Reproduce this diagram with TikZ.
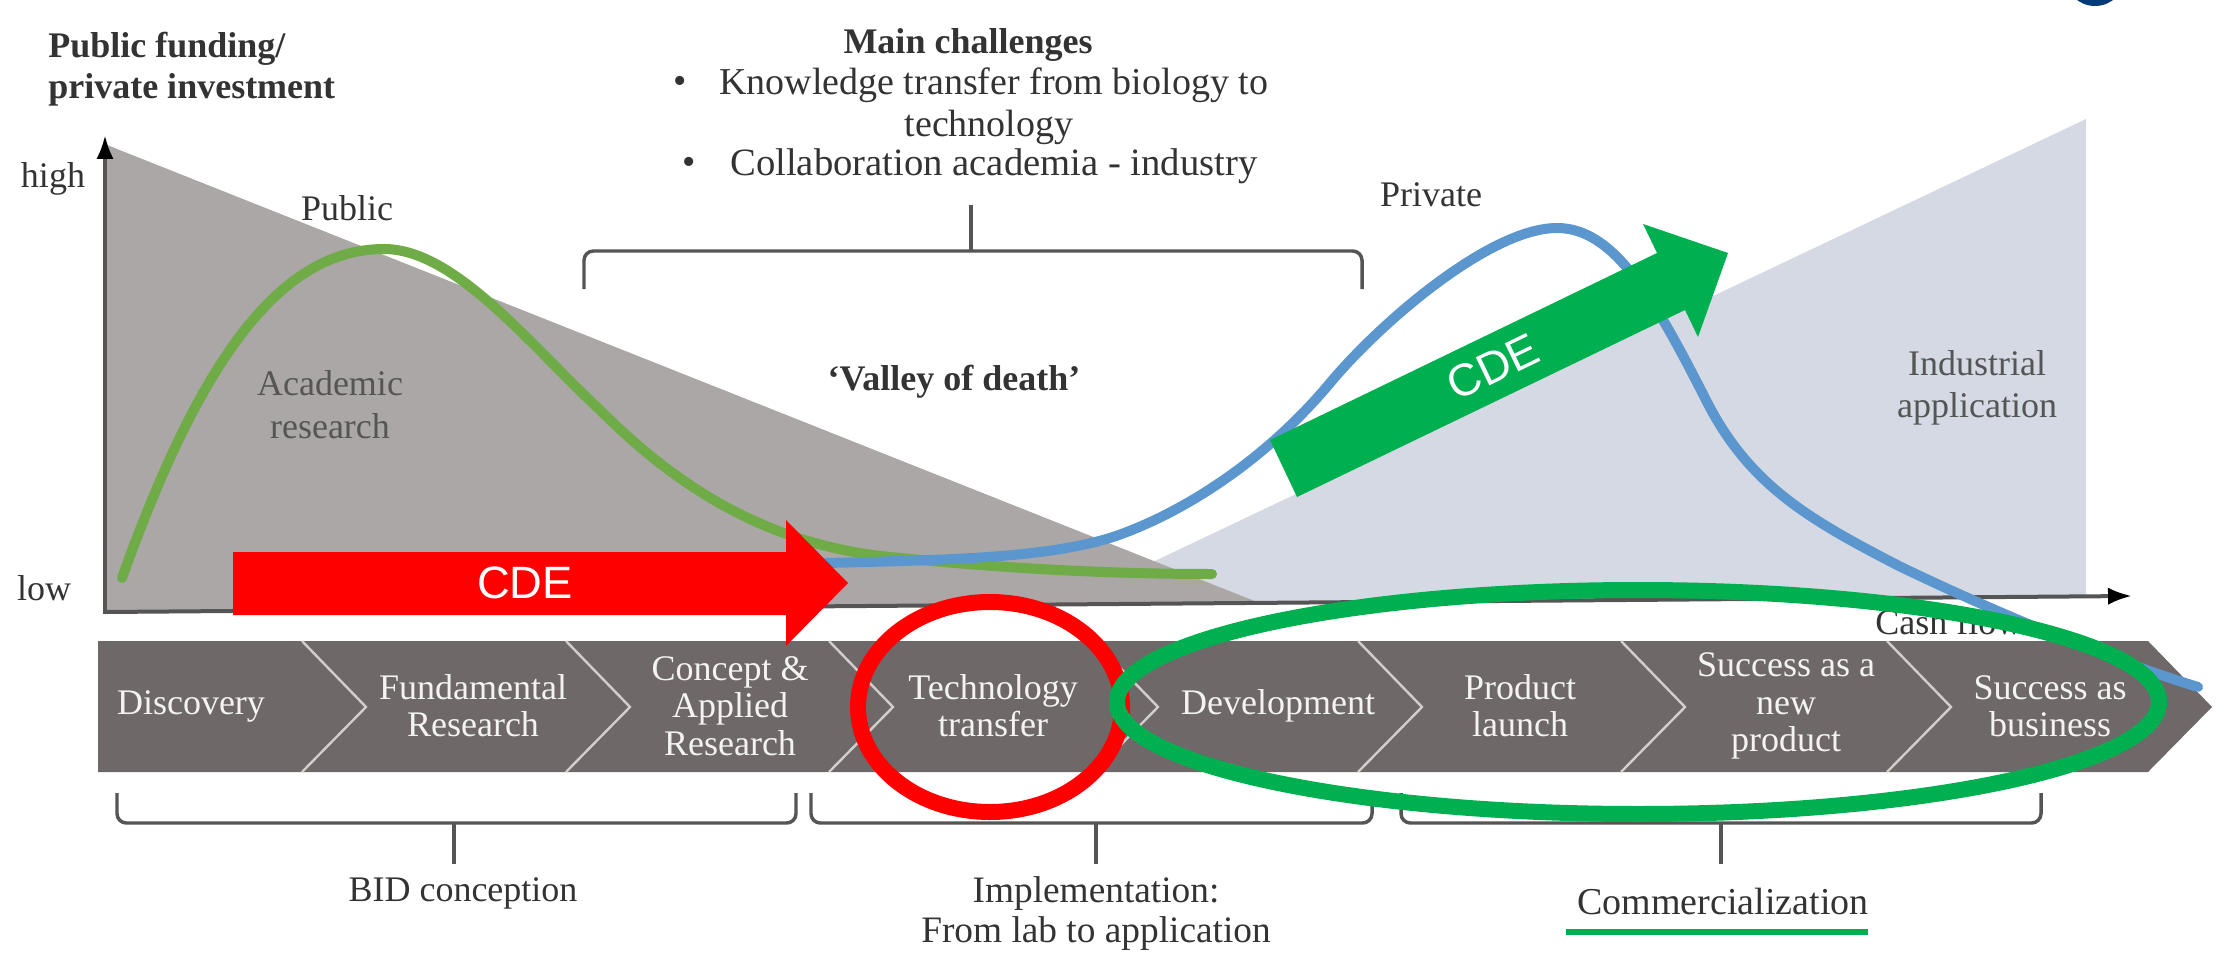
\documentclass[tikz,border=0pt]{standalone}
\usepackage{fontspec}
\setmainfont{Liberation Serif}
\setsansfont{Liberation Sans}
\usetikzlibrary{arrows.meta}
\definecolor{greytri}{HTML}{ABA7A6}
\definecolor{bluetri}{HTML}{D4D9E3}
\definecolor{band}{HTML}{6E6868}
\definecolor{sep}{HTML}{D2CECC}
\definecolor{axisc}{HTML}{555555}
\definecolor{cgreen}{HTML}{6FAB47}
\definecolor{cblue}{HTML}{5B97CE}
\definecolor{cdegreen}{HTML}{00B050}
\definecolor{logoblue}{HTML}{003A78}
\tikzset{
  lab/.style={font=\fontsize{27}{32}\selectfont, text=black!80, align=center, inner sep=0pt},
  toplab/.style={lab, font=\fontsize{28.5}{32}\selectfont},
  blab/.style={lab, font=\fontsize{27}{31}\selectfont\bfseries},
  softlab/.style={lab, text=axisc},
  bandlab/.style={font=\fontsize{27}{28}\selectfont, text=white!92!band, align=center, inner sep=0pt},
  cdelab/.style={font=\sffamily\fontsize{34}{40}\selectfont, text=white, inner sep=0pt},
  axisline/.style={draw=axisc, line width=3pt, -{Latex[length=18pt,width=13pt,black]}},
  bracket/.style={draw=axisc, line width=2.6pt, rounded corners=7pt},
  sepline/.style={draw=sep, line width=1.8pt},
  curve/.style={line width=7.5pt, line cap=round},
  ring/.style={line width=12pt, fill=none},
}
\begin{document}
\begin{tikzpicture}[x=0.75pt,y=-0.75pt]
\useasboundingbox (0,0) rectangle (2233,966);
\clip (0,0) rectangle (2233,966);
% logo fragment
\fill[logoblue] (2095,-24) circle (30);
% areas
\fill[bluetri] (2086,119) -- (2086,598) -- (1060,606) -- cycle;
\fill[greytri] (107,145) -- (1262,604) -- (107,612) -- cycle;
% axes
\coordinate (origin) at (105,612);
\coordinate (ytop) at (105,135);
\coordinate (xend) at (2132,596);
\draw[axisline] (105,613.5) -- (ytop);
\draw[axisline] (origin) -- (xend);
% axis and area labels
\node[blab,align=left,anchor=west] (yaxislab) at (48,69) {Public funding/\\private investment};
\node[lab] (high) at (53,179) {high};
\node[lab] (low) at (44,588) {low};
\node[lab] (public) at (347,208) {Public};
\node[lab] (private) at (1431,195) {Private};
\node[softlab] (academic) at (330,405) {Academic\\research};
\node[softlab] (industrial) at (1977,388) {Industrial\\application};
\node[lab,anchor=west] (cash) at (1875,622) {Cash flow};
% challenges
\node[blab] (main) at (968,45) {Main challenges};
\node[toplab] (bul1) at (680,85) {•};
\node[toplab,anchor=west] (know) at (719,85) {Knowledge transfer from biology to};
\node[toplab] (techn) at (989,127) {technology};
\node[toplab] (bul2) at (689,166) {•};
\node[toplab,font=\fontsize{29}{32}\selectfont,anchor=west] (collab) at (730,166) {Collaboration academia - industry};
\node[blab] (valley) at (954,382) {‘Valley of death’};
% chevron band
\fill[band] (98,641) -- (2148,641) -- (2212,707) -- (2148,772) -- (98,772) -- cycle;
\foreach \x in {302,566,829,1094,1358,1621,1887}
  \draw[sepline] (\x,641) -- (\x+64,707) -- (\x,772);
\node[bandlab] (s1) at (191,706) {Discovery};
\node[bandlab] (s2) at (473,706) {Fundamental\\Research};
\node[bandlab] (s3) at (730,706) {Concept \&\\Applied\\Research};
\node[bandlab] (s4) at (993,706) {Technology\\transfer};
\node[bandlab] (s5) at (1278,706) {Development};
\node[bandlab] (s6) at (1520,706) {Product\\launch};
\node[bandlab] (s7) at (1786,706) {Success as a\\new\\product};
\node[bandlab] (s8) at (2050,706) {Success as\\business};
% brackets
\draw[bracket] (584,289) -- (584,251) -- (1362,251) -- (1362,289);
\draw[bracket] (971,205) -- (971,251);
\draw[bracket] (117,793) -- (117,823) -- (796,823) -- (796,793);
\draw[bracket] (454,823) -- (454,864);
\draw[bracket] (811,793) -- (811,823) -- (1372,823) -- (1372,793);
\draw[bracket] (1096,823) -- (1096,864);
\draw[bracket] (1401,793) -- (1401,823) -- (2041,823) -- (2041,793);
\draw[bracket] (1721,823) -- (1721,864);
% phase labels
\node[blab,font=\fontsize{27}{32}\selectfont] (bid) at (463,893) {BID conception};
\node[blab,font=\fontsize{28}{30}\selectfont] (impl) at (1096,914) {Implementation:\\From lab to application};
\node[blab,font=\fontsize{28.5}{32}\selectfont] (comm) at (1723,901) {Commercialization};
\coordinate (ul1) at (1566,932);
\coordinate (ul2) at (1868,932);
\draw[cdegreen, line width=4.5pt] (ul1) -- (ul2);
% curves
\draw[curve, cgreen] (122,578) .. controls (200,360) and (280,249) .. (384,249)
  .. controls (455,249) and (530,345) .. (600,410)
  .. controls (680,490) and (770,545) .. (890,557)
  .. controls (970,565) and (1080,574) .. (1212,574);
\draw[curve, cblue] (826,563) .. controls (950,560) and (1050,558) .. (1116,536)
  .. controls (1190,510) and (1270,455) .. (1330,383)
  .. controls (1380,323) and (1490,228) .. (1557,228)
  .. controls (1615,228) and (1655,300) .. (1707,402)
  .. controls (1750,486) and (1810,520) .. (1899,566)
  .. controls (1990,610) and (2110,660) .. (2198,687);
% arrows
\fill[red] (233,552) -- (786,552) -- (786,520) -- (848,583) -- (786,646) -- (786,615) -- (233,615) -- cycle;
\node[cdelab] (cde1) at (525,583) {CDE};
\fill[cdegreen] (1270,440) -- (1657,253) -- (1643,224) -- (1728,253) -- (1698,337) -- (1685,310) -- (1297,497) -- cycle;
\node[cdelab,rotate=25.8] (cde2) at (1493,367) {CDE};
% rings
\draw[ring, red] (990,707) ellipse (132 and 105);
\draw[ring, cdegreen] (1638,702) ellipse (521 and 112);
\end{tikzpicture}
\end{document}
